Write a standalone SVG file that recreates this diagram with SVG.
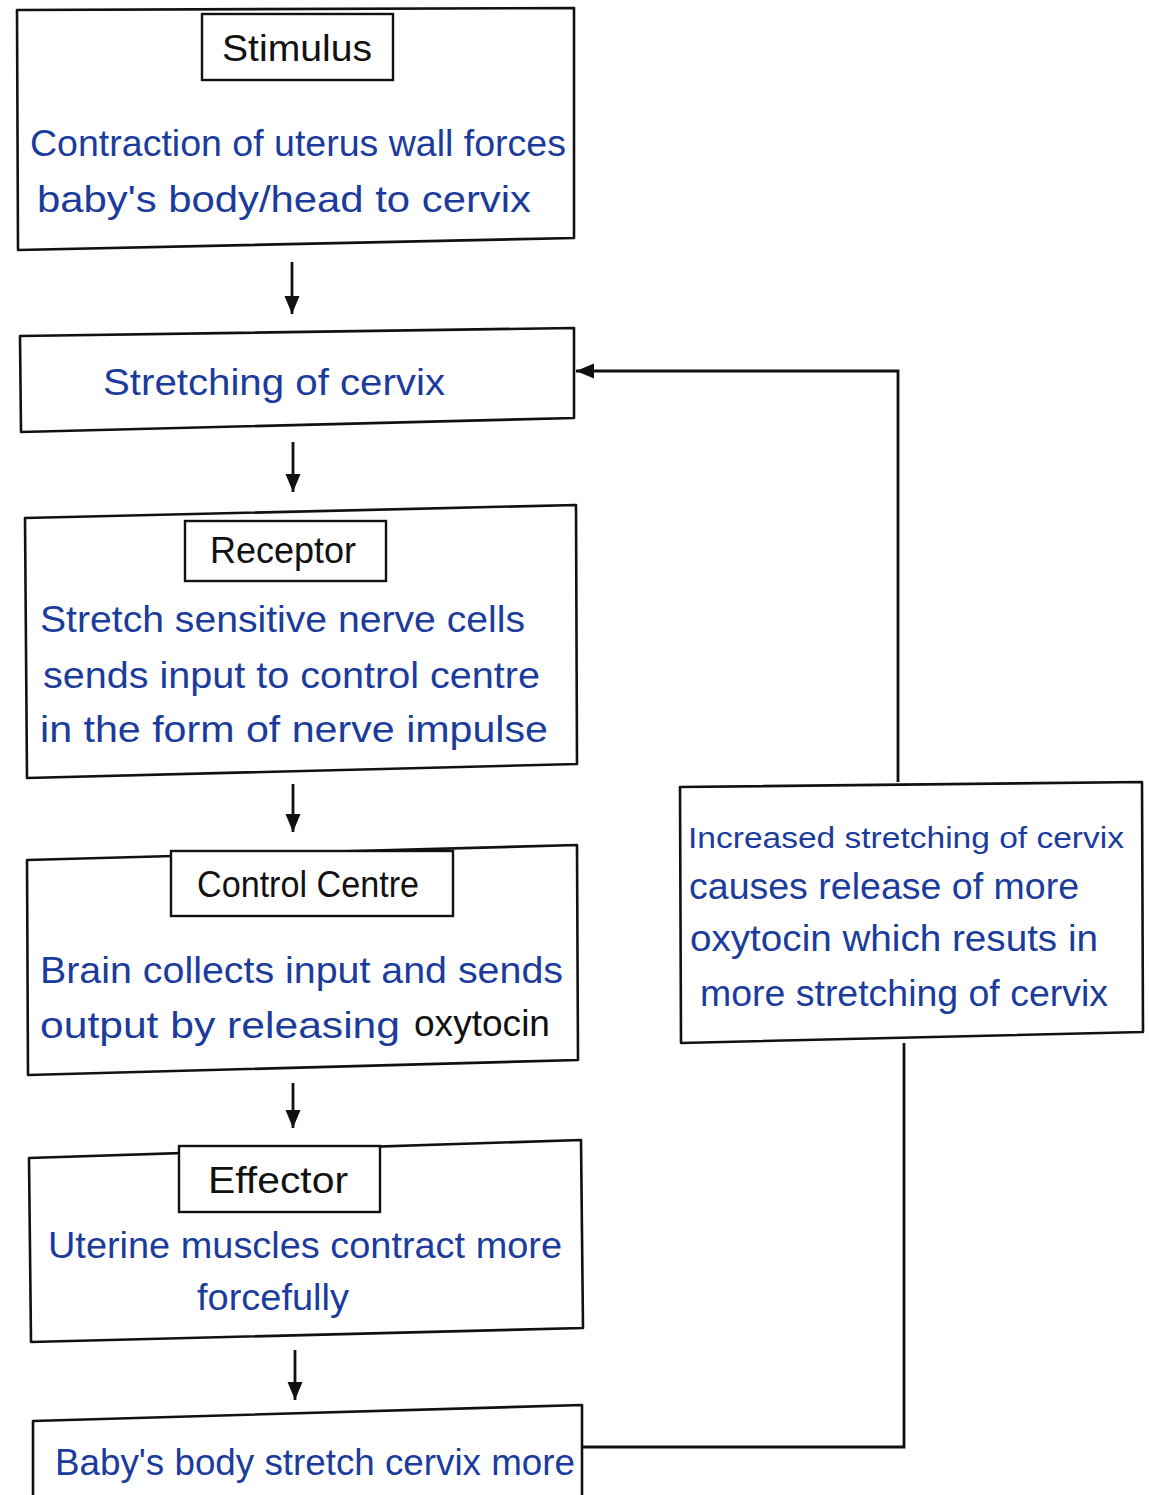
<svg xmlns="http://www.w3.org/2000/svg" width="1149" height="1495" viewBox="0 0 1149 1495">
<defs>
<style>
.box{fill:#fff;stroke:#111;stroke-width:2.6;stroke-linejoin:round}
.lbl{fill:#fff;stroke:#111;stroke-width:2.4}
.t{font-family:"Liberation Sans",Arial,sans-serif;font-size:36px;fill:#1b3c9c}
.k{font-family:"Liberation Sans",Arial,sans-serif;font-size:36px;fill:#111}
.c{fill:none;stroke:#111;stroke-width:2.8}
</style>
<marker id="ah" markerUnits="userSpaceOnUse" markerWidth="20" markerHeight="18" refX="18" refY="9" orient="auto">
<path d="M0,1.5 L18,9 L0,16.5 Z" fill="#111"/>
</marker>
</defs>
<rect width="1149" height="1495" fill="#fff"/>

<g id="stimulus">
<path class="box" d="M17,10 L574,8 L574,238 L18,250 Z"/>
<rect class="lbl" x="202" y="14" width="191" height="66"/>
<text class="k" x="297" y="61" text-anchor="middle" textLength="150" lengthAdjust="spacingAndGlyphs">Stimulus</text>
<text class="t" x="30" y="156" textLength="536" lengthAdjust="spacingAndGlyphs">Contraction of uterus wall forces</text>
<text class="t" x="37" y="212" textLength="494" lengthAdjust="spacingAndGlyphs">baby's body/head to cervix</text>
</g>

<g id="stretching">
<path class="box" d="M20,336 L574,328 L574,418 L21,432 Z"/>
<text class="t" x="103" y="395" textLength="342" lengthAdjust="spacingAndGlyphs">Stretching of cervix</text>
</g>

<g id="receptor">
<path class="box" d="M25,518 L576,505 L577,764 L27,778 Z"/>
<rect class="lbl" x="185" y="521" width="201" height="60"/>
<text class="k" x="283" y="563" text-anchor="middle" textLength="146" lengthAdjust="spacingAndGlyphs">Receptor</text>
<text class="t" x="40" y="632" textLength="485" lengthAdjust="spacingAndGlyphs">Stretch sensitive nerve cells</text>
<text class="t" x="43" y="688" textLength="497" lengthAdjust="spacingAndGlyphs">sends input to control centre</text>
<text class="t" x="40" y="742" textLength="508" lengthAdjust="spacingAndGlyphs">in the form of nerve impulse</text>
</g>

<g id="control-centre">
<path class="box" d="M27,860 L577,845 L578,1060 L28,1075 Z"/>
<rect class="lbl" x="171" y="851" width="282" height="65"/>
<text class="k" x="308" y="897" text-anchor="middle" textLength="222" lengthAdjust="spacingAndGlyphs">Control Centre</text>
<text class="t" x="40" y="983" textLength="523" lengthAdjust="spacingAndGlyphs">Brain collects input and sends</text>
<text class="t" x="40" y="1038" textLength="360" lengthAdjust="spacingAndGlyphs">output by releasing</text>
<text class="k" x="414" y="1036" textLength="136" lengthAdjust="spacingAndGlyphs">oxytocin</text>
</g>

<g id="effector">
<path class="box" d="M29,1158 L581,1140 L583,1328 L31,1342 Z"/>
<rect class="lbl" x="179" y="1146" width="201" height="66"/>
<text class="k" x="278" y="1193" text-anchor="middle" textLength="140" lengthAdjust="spacingAndGlyphs">Effector</text>
<text class="t" x="48" y="1258" textLength="514" lengthAdjust="spacingAndGlyphs">Uterine muscles contract more</text>
<text class="t" x="197" y="1310" textLength="152" lengthAdjust="spacingAndGlyphs">forcefully</text>
</g>

<g id="baby-body">
<path class="box" d="M33,1497 L33,1421 L582,1405 L582,1497"/>
<text class="t" x="55" y="1475" textLength="520" lengthAdjust="spacingAndGlyphs">Baby's body stretch cervix more</text>
</g>

<g id="feedback">
<path class="box" d="M680,787 L1142,782 L1143,1032 L681,1043 Z"/>
<text class="t" x="688" y="848" style="font-size:30px" textLength="436" lengthAdjust="spacingAndGlyphs">Increased stretching of cervix</text>
<text class="t" x="689" y="899" textLength="390" lengthAdjust="spacingAndGlyphs">causes release of more</text>
<text class="t" x="690" y="951" textLength="408" lengthAdjust="spacingAndGlyphs">oxytocin which resuts in</text>
<text class="t" x="700" y="1006" textLength="408" lengthAdjust="spacingAndGlyphs">more stretching of cervix</text>
</g>

<g id="connectors">
<path class="c" d="M292,262 L292,314" marker-end="url(#ah)"/>
<path class="c" d="M293,442 L293,492" marker-end="url(#ah)"/>
<path class="c" d="M293,784 L293,832" marker-end="url(#ah)"/>
<path class="c" d="M293,1083 L293,1128" marker-end="url(#ah)"/>
<path class="c" d="M295,1350 L295,1400" marker-end="url(#ah)"/>
<path class="c" d="M582,1447 L904,1447 L904,1043"/>
<path class="c" d="M898,782 L898,371 L576,371" marker-end="url(#ah)"/>
</g>
</svg>
